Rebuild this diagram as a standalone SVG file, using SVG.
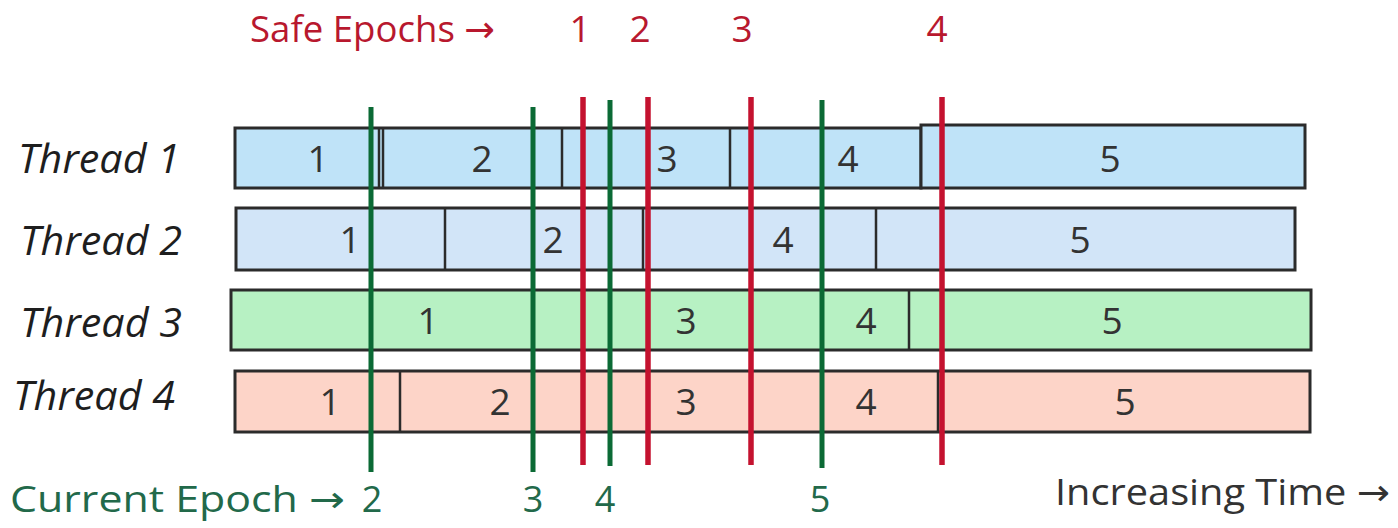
<svg xmlns="http://www.w3.org/2000/svg" width="1398" height="528" viewBox="0 0 1398 528">
  <style>
    .bar { stroke: #2b2b2b; stroke-width: 3; }
    .div { stroke: #2b2b2b; stroke-width: 2.5; }
    .t1 { fill: #bfe3f8; }
    .t2 { fill: #d2e5f8; }
    .t3 { fill: #b7f1c3; }
    .t4 { fill: #fdd4c8; }
    .lbl { font-family: "Open Sans", "DejaVu Sans", sans-serif; font-style: italic; font-size: 40px; fill: #1e1e1e; }
    .num { font-family: "Open Sans", "DejaVu Sans", sans-serif; font-size: 37px; fill: #333; text-anchor: middle; }
    .red { stroke: #c4122f; stroke-width: 5.5; }
    .green { stroke: #0b6a35; stroke-width: 5; }
    .rtxt { font-family: "Open Sans", "DejaVu Sans", sans-serif; font-size: 37px; fill: #b8182e; }
    .gtxt { font-family: "Open Sans", "DejaVu Sans", sans-serif; font-size: 36px; fill: #22694a; }
    .ttxt { font-family: "Open Sans", "DejaVu Sans", sans-serif; font-size: 36px; fill: #333; }
  </style>

  <rect width="1398" height="528" fill="#ffffff"/>

  <g id="header">
    <text class="rtxt" x="250" y="42" textLength="245" lengthAdjust="spacingAndGlyphs">Safe Epochs →</text>
    <text class="rtxt" x="580" y="42" text-anchor="middle">1</text>
    <text class="rtxt" x="640" y="42" text-anchor="middle">2</text>
    <text class="rtxt" x="742" y="42" text-anchor="middle">3</text>
    <text class="rtxt" x="937" y="42" text-anchor="middle">4</text>
  </g>

  <g id="thread1">
    <text class="lbl" x="18" y="173" textLength="162" lengthAdjust="spacingAndGlyphs">Thread 1</text>
    <rect class="bar t1" x="235" y="128" width="686" height="60"/>
    <rect class="bar t1" x="921" y="125" width="384" height="63"/>
    <line class="div" x1="379" y1="128" x2="379" y2="188"/>
    <line class="div" x1="383" y1="128" x2="383" y2="188"/>
    <line class="div" x1="562" y1="128" x2="562" y2="188"/>
    <line class="div" x1="730" y1="128" x2="730" y2="188"/>
    <text class="num" x="318" y="172">1</text>
    <text class="num" x="482" y="172">2</text>
    <text class="num" x="667" y="172">3</text>
    <text class="num" x="848" y="172">4</text>
    <text class="num" x="1110" y="172">5</text>
  </g>

  <g id="thread2">
    <text class="lbl" x="20" y="255" textLength="162" lengthAdjust="spacingAndGlyphs">Thread 2</text>
    <rect class="bar t2" x="236" y="208" width="1059" height="62"/>
    <line class="div" x1="445" y1="208" x2="445" y2="270"/>
    <line class="div" x1="643" y1="208" x2="643" y2="270"/>
    <line class="div" x1="876" y1="208" x2="876" y2="270"/>
    <text class="num" x="350" y="253">1</text>
    <text class="num" x="553" y="253">2</text>
    <text class="num" x="783" y="253">4</text>
    <text class="num" x="1080" y="253">5</text>
  </g>

  <g id="thread3">
    <text class="lbl" x="20" y="337" textLength="162" lengthAdjust="spacingAndGlyphs">Thread 3</text>
    <rect class="bar t3" x="231" y="290" width="1080" height="60"/>
    <line class="div" x1="909" y1="290" x2="909" y2="350"/>
    <text class="num" x="428" y="334">1</text>
    <text class="num" x="686" y="334">3</text>
    <text class="num" x="866" y="334">4</text>
    <text class="num" x="1112" y="334">5</text>
  </g>

  <g id="thread4">
    <text class="lbl" x="13" y="410" textLength="162" lengthAdjust="spacingAndGlyphs">Thread 4</text>
    <rect class="bar t4" x="235" y="371" width="1075" height="61"/>
    <line class="div" x1="400" y1="371" x2="400" y2="432"/>
    <line class="div" x1="938" y1="371" x2="938" y2="432"/>
    <text class="num" x="330" y="415">1</text>
    <text class="num" x="500" y="415">2</text>
    <text class="num" x="686" y="415">3</text>
    <text class="num" x="866" y="415">4</text>
    <text class="num" x="1125" y="415">5</text>
  </g>

  <g id="connectors">
    <line class="green" x1="371" y1="107" x2="371" y2="472"/>
    <line class="green" x1="533" y1="107" x2="533" y2="472"/>
    <line class="green" x1="610" y1="100" x2="610" y2="466"/>
    <line class="green" x1="822" y1="100" x2="822" y2="468"/>
    <line class="red" x1="583" y1="97" x2="583" y2="465"/>
    <line class="red" x1="648" y1="97" x2="648" y2="465"/>
    <line class="red" x1="751" y1="97" x2="751" y2="465"/>
    <line class="red" x1="942" y1="97" x2="942" y2="465"/>
  </g>

  <g id="footer">
    <text class="gtxt" x="10" y="512" textLength="335" lengthAdjust="spacingAndGlyphs">Current Epoch →</text>
    <text class="gtxt" x="372" y="512" text-anchor="middle">2</text>
    <text class="gtxt" x="533" y="512" text-anchor="middle">3</text>
    <text class="gtxt" x="605" y="512" text-anchor="middle">4</text>
    <text class="gtxt" x="820" y="512" text-anchor="middle">5</text>
    <text class="ttxt" x="1055" y="505" textLength="335" lengthAdjust="spacingAndGlyphs">Increasing Time →</text>
  </g>
</svg>
